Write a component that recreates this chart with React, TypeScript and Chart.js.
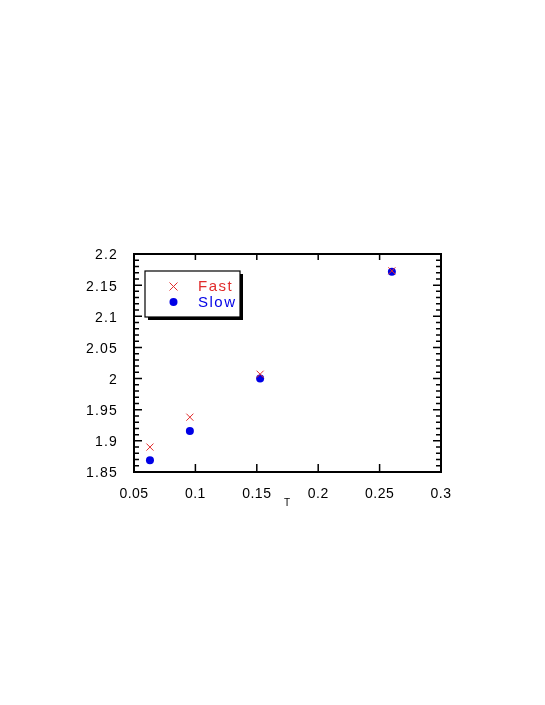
import React, { useEffect, useRef } from "react";
import { Chart, registerables } from "chart.js";
Chart.register(...registerables);

const xFast = [0.063, 0.0955, 0.1527, 0.26];
const yFast = [1.89, 1.938, 2.007, 2.173];
const xSlow = [0.063, 0.0955, 0.1527, 0.26];
const ySlow = [1.869, 1.916, 2.0, 2.1716];
const seriesNames = ["Fast", "Slow"];
const xAxisTitle = "T";
const xTicks = [0.05, 0.1, 0.15, 0.2, 0.25, 0.3];
const yTicks = [1.85, 1.9, 1.95, 2.0, 2.05, 2.1, 2.15, 2.2];

const RED = "rgb(225,45,45)";
const BLUE = "rgb(0,0,230)";
const FONT = "'Liberation Sans', Arial, sans-serif";

function spaced(spacing: string, dy: number) {
  return (s: any) => {
    if (s.__patched) return;
    const orig = s.drawLabels.bind(s);
    s.drawLabels = (area: any) => {
      s.ctx.save();
      s.ctx.letterSpacing = spacing;
      s.ctx.translate(0, dy);
      orig(area);
      s.ctx.restore();
    };
    s.__patched = true;
  };
}

const framePlugin = {
  id: "framePlugin",
  afterDraw(chart: any) {
    const { ctx, chartArea: a } = chart;
    const xs = chart.scales.x;
    const ys = chart.scales.y;
    ctx.save();
    ctx.strokeStyle = "#000";
    ctx.lineWidth = 2;
    ctx.strokeRect(a.left, a.top, a.right - a.left, a.bottom - a.top);
    ctx.lineWidth = 1.5;
    ctx.beginPath();
    for (const v of xTicks) {
      const px = xs.getPixelForValue(v);
      ctx.moveTo(px, a.bottom);
      ctx.lineTo(px, a.bottom - 8);
      ctx.moveTo(px, a.top);
      ctx.lineTo(px, a.top + 6);
    }
    for (let i = 0; i <= 35; i++) {
      const v = 1.85 + i * 0.01;
      const py = ys.getPixelForValue(v);
      const major = i % 5 === 0;
      const len = major ? 8 : 5;
      ctx.moveTo(a.left, py);
      ctx.lineTo(a.left + len, py);
      ctx.moveTo(a.right, py);
      ctx.lineTo(a.right - len, py);
    }
    ctx.stroke();

    // legend box
    const lx = 145, ly = 271, lw = 95, lh = 46;
    ctx.fillStyle = "#000";
    ctx.fillRect(lx + 3, ly + 3, lw, lh);
    ctx.fillStyle = "#fff";
    ctx.fillRect(lx, ly, lw, lh);
    ctx.strokeStyle = "#000";
    ctx.lineWidth = 1.2;
    ctx.strokeRect(lx, ly, lw, lh);
    ctx.strokeStyle = RED;
    ctx.lineWidth = 1;
    ctx.beginPath();
    ctx.moveTo(169.5, 282.5);
    ctx.lineTo(177.5, 290.5);
    ctx.moveTo(177.5, 282.5);
    ctx.lineTo(169.5, 290.5);
    ctx.stroke();
    ctx.fillStyle = BLUE;
    ctx.beginPath();
    ctx.arc(173.5, 302, 4, 0, Math.PI * 2);
    ctx.fill();
    ctx.font = `15px ${FONT}`;
    ctx.letterSpacing = "1.5px";
    ctx.textBaseline = "middle";
    ctx.textAlign = "left";
    ctx.fillStyle = RED;
    ctx.fillText(seriesNames[0], 198, 287);
    ctx.fillStyle = BLUE;
    ctx.fillText(seriesNames[1], 198, 303);
    ctx.letterSpacing = "0px";
    ctx.font = `10px ${FONT}`;
    ctx.fillStyle = "#000";
    ctx.textAlign = "center";
    ctx.fillText(xAxisTitle, 287, 503);
    ctx.restore();
  },
};

export default function App() {
  const ref = useRef<HTMLCanvasElement>(null);
  useEffect(() => {
    document.body.style.margin = "0";
    const chart = new Chart(ref.current!, {
      type: "scatter",
      data: {
        datasets: [
          {
            label: seriesNames[0],
            data: xFast.map((x, i) => ({ x, y: yFast[i] })),
            pointStyle: "cross",
            rotation: 45,
            pointRadius: 5,
            borderColor: RED,
            backgroundColor: RED,
            borderWidth: 1,
          },
          {
            label: seriesNames[1],
            data: xSlow.map((x, i) => ({ x, y: ySlow[i] })),
            pointStyle: "circle",
            pointRadius: 4,
            borderColor: BLUE,
            backgroundColor: BLUE,
            borderWidth: 0,
          },
        ],
      },
      options: {
        responsive: false,
        animation: false,
        layout: { padding: { left: 0, right: 104, top: 254, bottom: 0 } },
        plugins: { legend: { display: false }, tooltip: { enabled: false } },
        scales: {
          x: {
            type: "linear",
            min: 0.05,
            max: 0.3,
            grid: { display: false },
            border: { display: false },
            afterBuildTicks: (s: any) => {
              s.ticks = xTicks.map((v) => ({ value: v }));
            },
            afterFit: (s: any) => {
              s.height = 233;
              spaced("0.5px", 0)(s);
            },
            ticks: {
              padding: 6,
              color: "#000",
              font: { family: FONT, size: 14 },
              maxRotation: 0,
              callback: (v: any) => String(Number(v)),
            },
          },
          y: {
            type: "linear",
            min: 1.85,
            max: 2.2,
            grid: { display: false },
            border: { display: false },
            afterBuildTicks: (s: any) => {
              s.ticks = yTicks.map((v) => ({ value: v }));
            },
            afterFit: (s: any) => {
              s.width = 134;
              spaced("1.2px", 1.5)(s);
            },
            ticks: {
              padding: 8,
              color: "#000",
              font: { family: FONT, size: 14 },
              callback: (v: any) => String(Number(Number(v).toFixed(2))),
            },
          },
        },
      },
      plugins: [framePlugin],
    });
    return () => chart.destroy();
  }, []);
  return <canvas ref={ref} width={545} height={705} style={{ display: "block" }} />;
}
